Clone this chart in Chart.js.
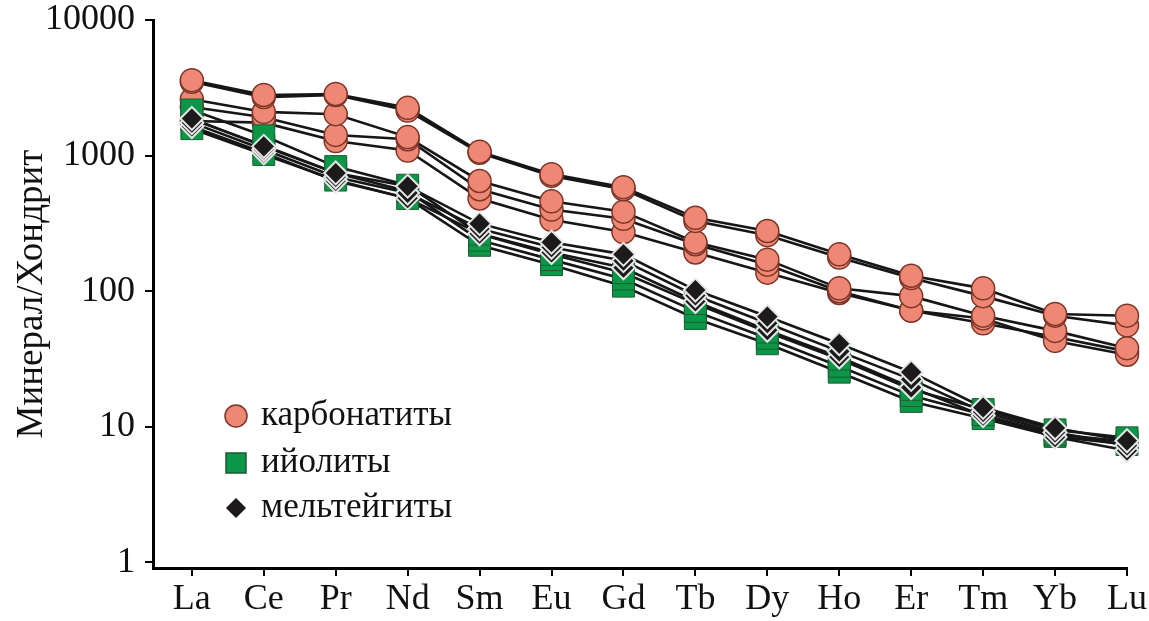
<!DOCTYPE html>
<html>
<head>
<meta charset="utf-8">
<script src="https://cdn.jsdelivr.net/npm/chart.js@4.4.1/dist/chart.umd.min.js"></script>
<style>
  html, body { margin: 0; padding: 0; background: #fff; }
</style>
</head>
<body>
<canvas id="reeChart" width="1149" height="621"></canvas>
<script>
// REE spider diagram, chondrite normalised
const elements = ['La', 'Ce', 'Pr', 'Nd', 'Sm', 'Eu', 'Gd', 'Tb', 'Dy', 'Ho', 'Er', 'Tm', 'Yb', 'Lu'];
const yTicks = [1, 10, 100, 1000, 10000];
const groupNames = ['карбонатиты', 'ийолиты', 'мельтейгиты'];
const yTitle = 'Минерал/Хондрит';

// карбонатиты
const carb1 = [3600, 2800, 2850, 2250, 1070, 730, 585, 348, 278, 187, 130, 105, 68, 66];
const carb2 = [3500, 2700, 2800, 2150, 1050, 708, 565, 330, 259, 177, 125, 92, 66, 56];
const carb3 = [2600, 2100, 2020, 1370, 650, 460, 386, 230, 171, 105, 92, 66, 51, 38];
const carb4 = [2280, 1920, 1420, 1320, 565, 400, 342, 222, 157, 100, 72, 63, 43, 34];
const carb5 = [1800, 1750, 1280, 1090, 483, 336, 273, 193, 137, 97, 72, 58, 46, 36];

// ийолиты
const ijol1 = [2170, 1400, 830, 605, 264, 187, 137, 81, 50, 31.6, 18.9, 13.4, 9.5, 8.3];
const ijol2 = [1850, 1190, 745, 546, 238, 171, 123, 71, 45, 28, 17, 12.3, 8.8, 7.8];
const ijol3 = [1580, 1020, 660, 483, 218, 157, 109, 63, 41, 25.3, 15.4, 11.5, 8.5, 7.4];

// мельтейгиты
const melt1 = [1880, 1170, 745, 595, 315, 230, 187, 102, 65, 41, 25.3, 13.9, 9.8, 7.9];
const melt2 = [1750, 1110, 695, 530, 289, 211, 168, 93, 58, 36, 22.4, 12.9, 9.1, 7.3];
const melt3 = [1640, 1050, 650, 486, 265, 193, 149, 84, 51.5, 32.7, 19.5, 12.1, 8.4, 6.7];

const serif = "'Liberation Serif', 'Times New Roman', serif";

const groups = [
    { series: [carb1, carb2, carb3, carb4, carb5], style: 'circle', radius: 11.5, fill: '#ee8874', edge: '#7c3528', edgeWidth: 1.5 },
    { series: [ijol1, ijol2, ijol3], style: 'rect', radius: 15.5, fill: '#0b9747', edge: '#1d5a32', edgeWidth: 1 },
    { series: [melt1, melt2, melt3], style: 'rectRot', radius: 11.5, fill: '#1c1a1a', edge: '#e6e6e6', edgeWidth: 2 }
];

function toPoints(values) {
    return values.map((v, i) => ({ x: i, y: v }));
}

const datasets = [];
// lines first (drawn underneath everything)
groups.forEach(g => {
    g.series.forEach(s => {
        datasets.push({
            data: toPoints(s),
            borderColor: '#161616',
            borderWidth: 2.6,
            pointRadius: 0,
            clip: false,
            order: 20
        });
    });
});
// markers: circles below squares below diamonds; higher series on top
groups.forEach((g, gi) => {
    g.series.forEach((s, si) => {
        datasets.push({
            data: toPoints(s),
            showLine: false,
            pointStyle: g.style,
            pointRadius: g.radius,
            pointBackgroundColor: g.fill,
            pointBorderColor: g.edge,
            pointBorderWidth: g.edgeWidth,
            clip: false,
            order: 15 - gi * 5 + si
        });
    });
});

// legend drawn inside the plot
const groupLegend = {
    id: 'groupLegend',
    afterDraw(chart) {
        const ctx = chart.ctx;
        const mx = 236, tx = 261;
        const rows = [416, 463, 508];
        ctx.save();
        groupNames.forEach((name, i) => {
            const g = groups[i];
            const y = rows[i];
            ctx.fillStyle = g.fill;
            ctx.strokeStyle = g.edge;
            ctx.lineWidth = 1.5;
            ctx.beginPath();
            if (g.style === 'circle') {
                ctx.arc(mx, y, 11, 0, Math.PI * 2);
            } else if (g.style === 'rect') {
                ctx.rect(mx - 10, y - 10, 20, 20);
            } else {
                ctx.moveTo(mx, y - 9);
                ctx.lineTo(mx + 9, y);
                ctx.lineTo(mx, y + 9);
                ctx.lineTo(mx - 9, y);
                ctx.closePath();
                ctx.strokeStyle = g.fill;
            }
            ctx.fill();
            ctx.stroke();
            ctx.fillStyle = '#111';
            ctx.font = '35px ' + serif;
            ctx.textBaseline = 'middle';
            ctx.fillText(name, tx, y);
        });
        ctx.restore();
    }
};

new Chart(document.getElementById('reeChart'), {
    type: 'line',
    data: { datasets: datasets },
    plugins: [groupLegend],
    options: {
        responsive: false,
        animation: false,
        devicePixelRatio: 1,
        layout: { padding: { top: 20, right: 16, bottom: 0, left: 0 } },
        plugins: {
            legend: { display: false },
            tooltip: { enabled: false }
        },
        scales: {
            x: {
                type: 'linear',
                min: -0.54,
                max: 13,
                afterBuildTicks: s => { s.ticks = elements.map((e, i) => ({ value: i })); },
                afterFit: s => { s.height = 53; },
                ticks: {
                    callback: v => elements[v],
                    font: { family: serif, size: 36 },
                    color: '#111',
                    padding: 2,
                    maxRotation: 0,
                    autoSkip: false
                },
                grid: { drawOnChartArea: false, drawTicks: true, tickLength: 8, color: '#000', lineWidth: 2 },
                border: { color: '#000', width: 3 }
            },
            y: {
                type: 'logarithmic',
                min: 0.91,
                max: 10000,
                afterBuildTicks: s => { s.ticks = yTicks.map(v => ({ value: v })); },
                afterFit: s => { s.width = 153; },
                ticks: {
                    callback: v => String(v),
                    font: { family: serif, size: 36, lineHeight: 0.5 },
                    color: '#111',
                    padding: 10
                },
                grid: { drawOnChartArea: false, drawTicks: true, tickLength: 8, color: '#000', lineWidth: 2 },
                border: { color: '#000', width: 3 },
                title: {
                    display: true,
                    text: yTitle,
                    font: { family: serif, size: 37 },
                    color: '#111',
                    padding: { top: 10, bottom: 0 }
                }
            }
        }
    }
});
</script>
</body>
</html>
